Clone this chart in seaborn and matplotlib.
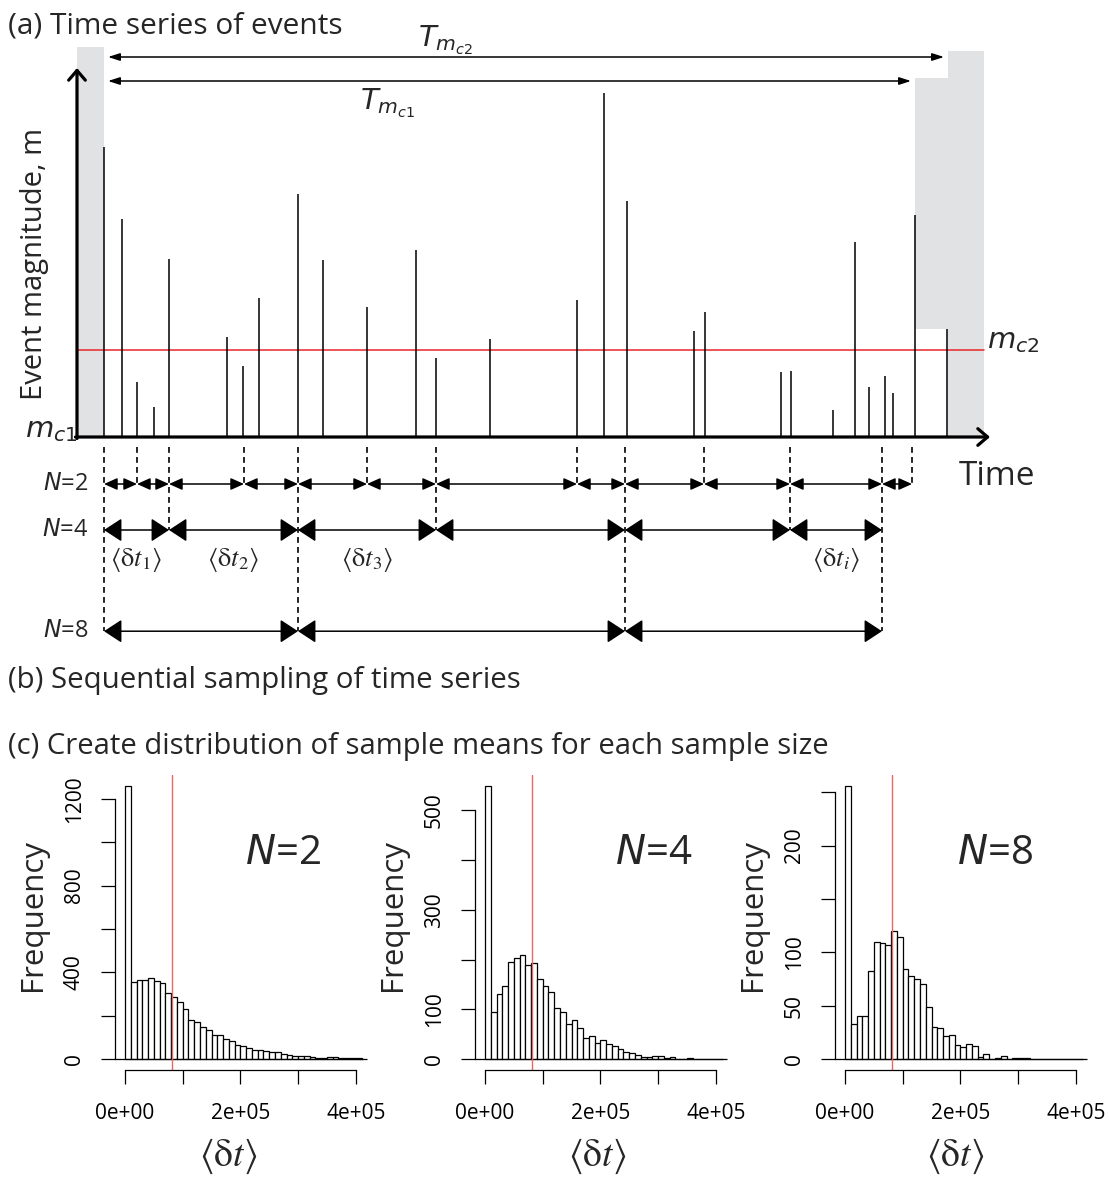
import numpy as np
import pandas as pd
import matplotlib
matplotlib.use("Agg")
from matplotlib import pyplot as plt
import seaborn as sns

# ---------------- data ----------------
# (a) event catalogue: time (arbitrary units) and magnitude
event_time = [27, 45, 60, 77, 92, 150, 166, 182, 221, 246, 290, 339, 359, 413,
              500, 527, 550, 617, 628, 704, 714, 756, 778, 792, 808, 816, 838, 870]
event_mag = [4.90, 4.18, 2.55, 2.30, 3.78, 3.00, 2.71, 3.39, 4.43, 3.77, 3.30, 3.87,
             2.79, 2.98, 3.37, 5.44, 4.36, 3.06, 3.25, 2.65, 2.66, 2.27, 3.95, 2.50,
             2.61, 2.44, 4.22, 3.08]
mc1 = 2.0
mc2 = 2.87
span_mc1 = (31, 834, 5.56)   # start, end, drawn at
span_mc2 = (31, 867, 5.80)
# grey (incomplete) parts of the record: t0, t1, m_low, m_high
grey_blocks = [(0, 27, 2.0, 5.90), (838, 871, 3.08, 5.59), (871, 907, 2.0, 5.86)]
t_axis_end = 913
m_axis_end = 5.69

# (b) sequential sampling windows
sample_sizes = [2, 4, 8]
row_pos = [0, 1, 3.2]
window_bounds = {
    2: [27, 60, 92, 167, 221, 290, 359, 500, 548, 627, 713, 805, 835],
    4: [27, 92, 221, 359, 548, 713, 805],
    8: [27, 221, 548, 805],
}
mean_label_windows = [0, 1, 2, 5]
mean_label_subs = ["1", "2", "3", "i"]

# (c) distributions of sample means
bin_width = 10000
bin_max = 420000
bin_centers = np.arange(bin_width / 2, bin_max, bin_width)
counts = {
    2: [1260, 357, 367, 364, 374, 358, 349, 307, 288, 262, 229, 178, 172, 149,
        135, 109, 109, 91, 84, 65, 62, 51, 43, 43, 37, 31, 31, 23, 19, 12,
        16, 16, 9, 6, 6, 8, 8, 6, 4, 3, 3, 2],
    4: [549, 95, 131, 146, 195, 203, 210, 189, 193, 161, 146, 134, 102, 95,
        71, 78, 62, 42, 46, 32, 38, 30, 26, 20, 14, 12, 9, 4, 5, 7,
        7, 2, 4, 1, 1, 3, 1, 1, 1, 0, 1, 0],
    8: [256, 33, 40, 40, 83, 110, 109, 107, 120, 114, 84, 78, 75, 70,
        49, 30, 29, 22, 23, 13, 11, 14, 12, 2, 5, 0, 1, 3, 0, 1,
        1, 1, 0, 0, 0, 0, 0, 0, 0, 0, 0, 0],
}
mean_dt = 81000
yticks = {2: [0, 200, 400, 600, 800, 1000, 1200],
          4: [0, 100, 200, 300, 400, 500],
          8: [0, 50, 100, 150, 200, 250]}
ytick_labels = {2: ["0", "", "400", "", "800", "", "1200"],
                4: ["0", "100", "", "300", "", "500"],
                8: ["0", "50", "100", "", "200", ""]}
xticks = [0, 100000, 200000, 300000, 400000]
xtick_labels = ["0e+00", "", "2e+05", "", "4e+05"]

# ---------------- style ----------------
sns.set_style("ticks")
plt.rcParams["font.family"] = ["Open Sans", "DejaVu Sans"]

W, H = 1109, 1185
fig = plt.figure(figsize=(W / 100, H / 100), dpi=100)


def rect(l, t, r, b):
    return [l / W, 1 - b / H, (r - l) / W, (b - t) / H]


grey = "#e1e2e4"
red = "#e8262b"

# ---------------- (a) time series ----------------
ax = fig.add_axes(rect(0, 0, W, 445))
ax.set_xlim(-77, 1032)
ax.set_ylim(1.92, 6.37)
ax.axis("off")

for t0, t1, lo, hi in grey_blocks:
    ax.fill_between([t0, t1], lo, hi, color=grey, lw=0, zorder=0)

ax.plot([0, 907], [mc2, mc2], color=red, lw=1.1, zorder=2)
ax.vlines(event_time, mc1, event_mag, color="black", lw=1.1, zorder=3)

axis_arrow = dict(arrowstyle="->,head_length=0.35,head_width=0.3", lw=2.3,
                  color="black", mutation_scale=20, shrinkA=0, shrinkB=0)
ax.annotate("", xy=(0, m_axis_end), xytext=(0, mc1 - 0.015), arrowprops=axis_arrow, zorder=4)
ax.annotate("", xy=(t_axis_end, mc1), xytext=(-1.5, mc1), arrowprops=axis_arrow, zorder=4)

span_arrow = dict(arrowstyle="<|-|>,head_length=0.5,head_width=0.16", lw=1.1,
                  color="black", mutation_scale=14, shrinkA=0, shrinkB=0)
for t0, t1, m in (span_mc1, span_mc2):
    ax.annotate("", xy=(t1, m), xytext=(t0, m), arrowprops=span_arrow)

ax.text(341, 5.90, r"$T_{m_{c2}}$", fontsize=21, math_fontfamily="dejavusans", va="baseline")
ax.text(283, 5.27, r"$T_{m_{c1}}$", fontsize=21, math_fontfamily="dejavusans", va="baseline")
ax.text(910, 2.89, r"$m_{c2}$", fontsize=21, math_fontfamily="dejavusans", va="baseline")
ax.text(-52, 2.0, r"$m_{c1}$", fontsize=21, math_fontfamily="dejavusans", va="baseline")
ax.text(-42, 3.73, "Event magnitude, m", rotation=90, fontsize=21, ha="center", va="center")
ax.text(882, 1.52, "Time", fontsize=24, va="baseline")

# ---------------- (b) sampling windows ----------------
axb = fig.add_axes(rect(0, 445, W, 660))
axb.set_xlim(-77, 1032)
axb.set_ylim(3.826, -0.848)
axb.axis("off")

dash = (0, (3.5, 2.5))
for t in window_bounds[2]:
    depth = max(r for n, r in zip(sample_sizes, row_pos) if t in window_bounds[n])
    axb.vlines(t, -0.804, depth, color="black", lw=1.2, linestyles=dash, zorder=1)

for n, r in zip(sample_sizes, row_pos):
    if n == 2:
        style = "<|-|>,head_length=0.4,head_width=0.18"
    else:
        style = "<|-|>,head_length=0.55,head_width=0.36"
    kw = dict(arrowstyle=style, lw=1.1, color="black", mutation_scale=20,
              shrinkA=0, shrinkB=0)
    b = window_bounds[n]
    for t0, t1 in zip(b[:-1], b[1:]):
        axb.annotate("", xy=(t1, r), xytext=(t0, r), arrowprops=kw)
    axb.text(11, r, f"$N$={n}", fontsize=17, math_fontfamily="dejavusans",
             ha="right", va="center")

b4 = window_bounds[4]
for idx, s in zip(mean_label_windows, mean_label_subs):
    mid = (b4[idx] + b4[idx + 1]) / 2
    axb.text(mid, 1.65, r"$\langle\mathrm{\delta} t_{\mathit{%s}}\rangle$" % s, fontsize=19,
             math_fontfamily="stix", ha="center", va="center")

fig.text(8 / W, 1 - 33 / H, "(a) Time series of events", fontsize=21.5, va="baseline")
fig.text(8 / W, 1 - 688 / H, "(b) Sequential sampling of time series", fontsize=21.2, va="baseline")
fig.text(8 / W, 1 - 754 / H, "(c) Create distribution of sample means for each sample size",
         fontsize=21.1, va="baseline")

# ---------------- (c) histograms ----------------
hist_left = [115.3, 475.3, 835.3]
n_label_x = [0.64, 0.68, 0.61]
xlabel_x = [0.43, 0.465, 0.457]
for k, n in enumerate(sample_sizes):
    axh = fig.add_axes(rect(hist_left[k], 775, hist_left[k] + 261.7, 1070))
    df = pd.DataFrame({"dt": bin_centers, "count": counts[n]})
    sns.histplot(data=df, x="dt", weights="count", binwidth=bin_width,
                 binrange=(0, bin_max), ax=axh, color="white",
                 edgecolor="black", linewidth=0.9, alpha=1)
    M = max(counts[n])
    axh.set_xlim(-0.04 * bin_max, 1.04 * bin_max)
    axh.set_ylim(-0.04 * M, 1.04 * M)
    axh.hlines(0, -0.04 * bin_max, bin_max - 7000, color="black", lw=0.9)
    axh.axvline(mean_dt, color="#f06464", lw=1.0)

    for side in ("top", "right"):
        axh.spines[side].set_visible(False)
    for side in ("left", "bottom"):
        axh.spines[side].set_linewidth(0.9)
        axh.spines[side].set_color("black")
    axh.spines["left"].set_bounds(0, yticks[n][-1])
    axh.spines["bottom"].set_bounds(0, xticks[-1])

    axh.set_yticks(yticks[n])
    axh.set_yticklabels(ytick_labels[n], rotation=90, va="center")
    axh.set_xticks(xticks)
    axh.set_xticklabels(xtick_labels)
    axh.tick_params(direction="out", length=10, width=0.9, labelsize=15, colors="black")
    axh.tick_params(axis="y", pad=12)
    axh.tick_params(axis="x", pad=14)

    axh.set_ylabel("Frequency", fontsize=22.5)
    axh.yaxis.set_label_coords(-0.257, 0.525)
    axh.set_xlabel(r"$\langle\mathrm{\delta} t\rangle$", fontsize=27, math_fontfamily="stix")
    axh.xaxis.set_label_coords(xlabel_x[k], -0.225)

    axh.text(n_label_x[k], 0.732, f"$N$={n}", transform=axh.transAxes, fontsize=29,
             math_fontfamily="dejavusans", ha="center", va="center")

fig.savefig("out.png", dpi=100)
